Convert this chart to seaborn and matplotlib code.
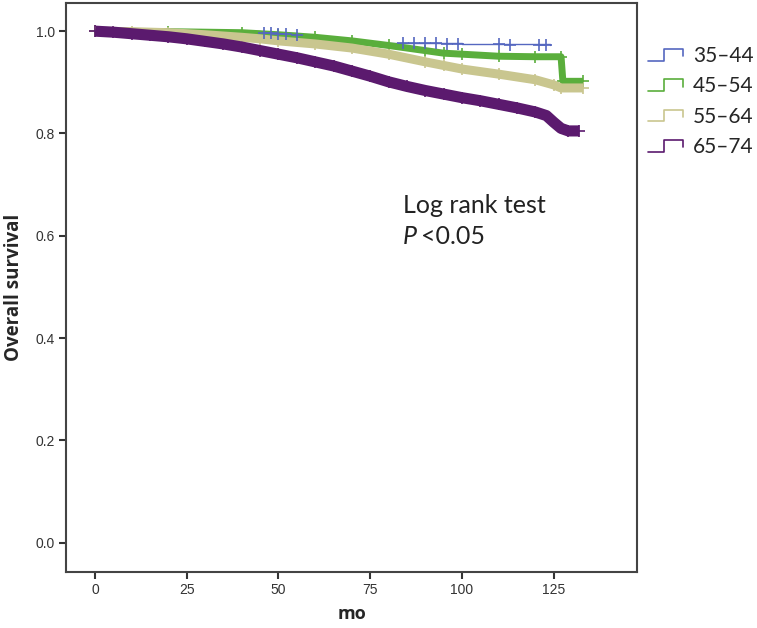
import numpy as np
import pandas as pd
import seaborn as sns
import matplotlib.pyplot as plt
from matplotlib.legend_handler import HandlerBase
from matplotlib.lines import Line2D

# age groups and colours
groups = ["35\u201344", "45\u201354", "55\u201364", "65\u201374"]
colors = ["#5567c0", "#5aae3c", "#c9c68f", "#5b1a6e"]

# survival curves (months, survival)
t_35 = [0, 30, 45, 55, 60, 70, 85, 100, 124]
s_35 = [1.0, 1.0, 0.997, 0.993, 0.985, 0.977, 0.977, 0.975, 0.973]
c_35 = [46, 48, 50, 52, 55, 84, 87, 90, 93, 96, 99, 110, 113, 121, 123]

t_45 = [0, 20, 40, 50, 60, 70, 80, 90, 95, 100, 110, 120, 127, 127.5, 133]
s_45 = [1.0, 0.999, 0.997, 0.993, 0.988, 0.981, 0.972, 0.962, 0.957, 0.955,
        0.951, 0.950, 0.950, 0.902, 0.902]

t_55 = [0, 10, 20, 30, 40, 45, 50, 60, 70, 80, 90, 95, 100, 110, 120, 125, 127, 133]
s_55 = [1.0, 0.999, 0.997, 0.993, 0.988, 0.985, 0.981, 0.975, 0.967, 0.955,
        0.940, 0.933, 0.926, 0.916, 0.905, 0.895, 0.889, 0.889]

t_65 = [0, 5, 10, 15, 20, 25, 30, 35, 40, 45, 50, 55, 60, 65, 70, 75, 80, 85,
        90, 95, 100, 105, 110, 115, 120, 123, 125, 127, 129, 132]
s_65 = [1.0, 0.998, 0.995, 0.992, 0.989, 0.985, 0.980, 0.975, 0.969, 0.962,
        0.955, 0.948, 0.940, 0.932, 0.922, 0.912, 0.901, 0.892, 0.884, 0.877,
        0.870, 0.864, 0.857, 0.850, 0.842, 0.835, 0.822, 0.810, 0.805, 0.805]

curves = {
    groups[0]: (t_35, s_35),
    groups[1]: (t_45, s_45),
    groups[2]: (t_55, s_55),
    groups[3]: (t_65, s_65),
}
widths = {groups[0]: 1.0, groups[1]: 5, groups[2]: 6.5, groups[3]: 8}

sns.set_style("white")
plt.rcParams["font.family"] = ["Liberation Sans", "DejaVu Sans"]

fig = plt.figure(figsize=(7.57, 6.28), dpi=100)
ax = fig.add_axes([0.0872, 0.0892, 0.7543, 0.906])

# draw curves, youngest first
for g in groups:
    t, s = curves[g]
    df = pd.DataFrame({"mo": t, "surv": s})
    col = colors[groups.index(g)]
    if g == groups[0]:
        sns.lineplot(data=df, x="mo", y="surv", ax=ax, color=col,
                     drawstyle="steps-post", lw=widths[g])
    else:
        sns.lineplot(data=df, x="mo", y="surv", ax=ax, color=col,
                     lw=widths[g], solid_capstyle="butt")
        sns.scatterplot(data=df, x="mo", y="surv", ax=ax, color=col,
                        marker="+", s=70, linewidth=1.2, legend=False)

# censor marks for the youngest group
s_c35 = np.interp(c_35, t_35, s_35)
ax.plot(c_35, s_c35, "+", color=colors[0], ms=9, mew=1.2, ls="none")

ax.set_xlim(-7.9, 147.7)
ax.set_ylim(-0.057, 1.055)
ax.set_xticks([0, 25, 50, 75, 100, 125])
ax.set_yticks([0.0, 0.2, 0.4, 0.6, 0.8, 1.0])
ax.set_yticklabels(["0.0", "0.2", "0.4", "0.6", "0.8", "1.0"])
ax.tick_params(direction="out", length=5, width=1.5, colors="#333333",
               labelsize=10, left=True, bottom=True, pad=3)
for sp in ax.spines.values():
    sp.set_color("#444444")
    sp.set_linewidth(1.5)

ax.set_xlabel("mo", fontsize=13, fontweight="bold", labelpad=6,
              family=["Open Sans", "DejaVu Sans"])
ax.set_ylabel("Overall survival", fontsize=13.5, fontweight="bold", labelpad=8,
              family=["Open Sans", "DejaVu Sans"])

ax.text(83.9, 0.66, "Log rank test", fontsize=18,
        family=["Lato", "DejaVu Sans"], va="center", color="#222222")
ax.text(83.9, 0.598, "P", fontsize=18, style="italic",
        family=["Lato", "DejaVu Sans"], va="center", color="#222222")
ax.text(88.8, 0.598, "<0.05", fontsize=18,
        family=["Lato", "DejaVu Sans"], va="center", color="#222222")


class StepHandler(HandlerBase):
    def create_artists(self, legend, orig_handle, xdescent, ydescent,
                       width, height, fontsize, trans):
        xs = np.array([0, 0.45, 0.45, 1, 1]) * width - xdescent
        ys = np.array([0.1, 0.1, 0.9, 0.9, 0.4]) * height - ydescent
        line = Line2D(xs, ys, color=orig_handle.get_color(), lw=1.2,
                      transform=trans)
        return [line]


handles = [Line2D([], [], color=c) for c in colors]
ax.legend(handles, groups, handler_map={Line2D: StepHandler()},
          loc="upper left", bbox_to_anchor=(0.845, 0.94),
          bbox_transform=fig.transFigure, frameon=False,
          prop={"family": ["Lato", "DejaVu Sans"], "size": 15},
          handlelength=1.7, handletextpad=0.45, labelspacing=0.5,
          borderaxespad=0)

fig.savefig("out.png", dpi=100)
